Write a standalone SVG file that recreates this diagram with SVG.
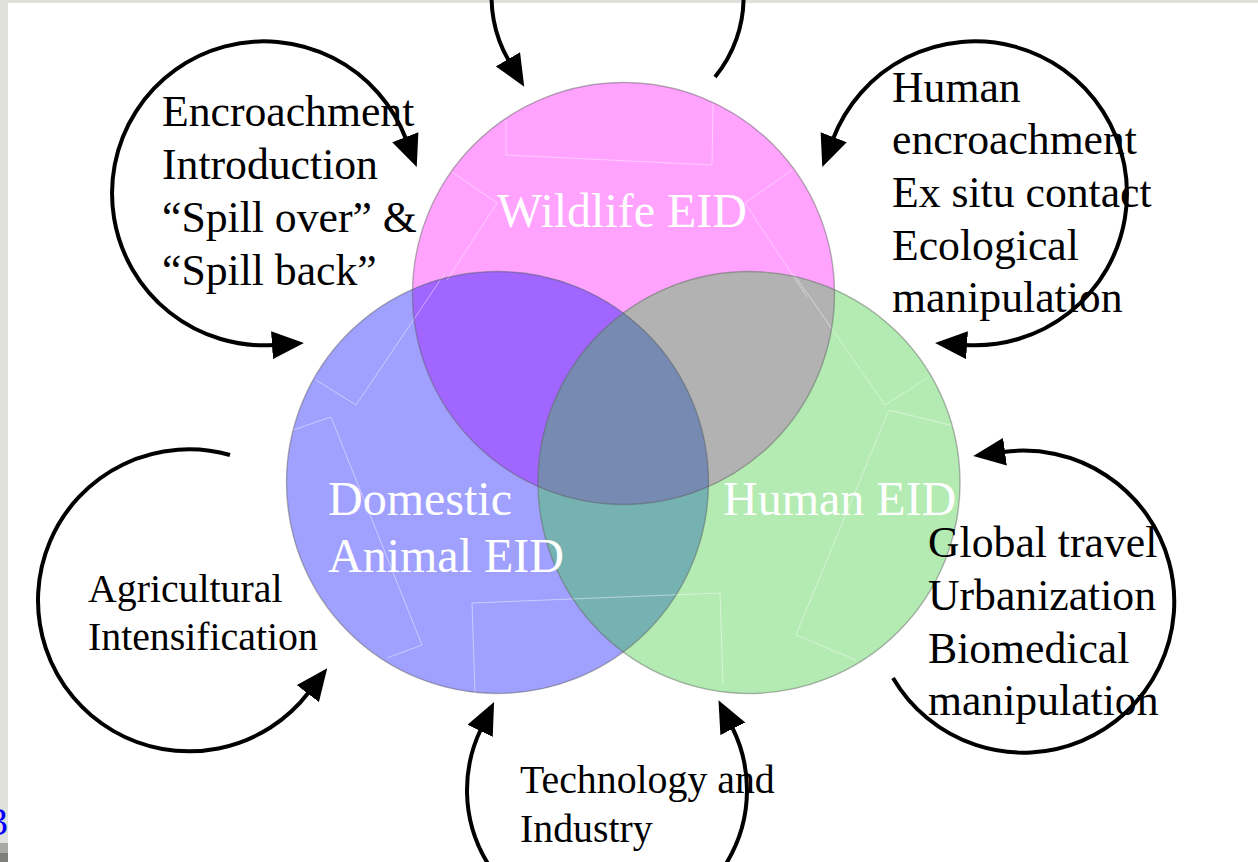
<svg xmlns="http://www.w3.org/2000/svg" width="1258" height="862" viewBox="0 0 1258 862">
<style>
.lbl{font-family:"Liberation Serif","Times New Roman",serif;fill:#000;}
.big{font-size:43.7px;}
.mid{font-size:39.8px;}
.eid{font-family:"Liberation Serif","Times New Roman",serif;font-size:48px;fill:#fff;}
.edge{fill:none;stroke:#5a5a5a;stroke-opacity:0.45;stroke-width:1.4;}
.art{fill:none;stroke:#fff;stroke-opacity:0.45;stroke-width:1;}
.loop{fill:none;stroke:#000;stroke-width:4;}
</style>
<defs>
<marker id="ah" markerUnits="userSpaceOnUse" viewBox="0 0 32 28" markerWidth="32" markerHeight="28" refX="2" refY="14" orient="auto-start-reverse">
<path d="M0,0 L32,14 L0,28 z" fill="#000"/>
</marker>
<clipPath id="cpW"><circle cx="623.5" cy="293.5" r="211"/></clipPath>
<clipPath id="cpD"><circle cx="497.5" cy="482.5" r="211"/></clipPath>
</defs>
<rect x="0" y="0" width="1258" height="862" fill="#fff"/>
<rect x="0" y="0" width="1258" height="3" fill="#e1e1dc"/>
<rect x="0" y="0" width="8" height="862" fill="#e1e1dc"/>
<rect x="0" y="843" width="8" height="10" fill="#a8a8a6"/>
<rect x="0" y="853" width="8" height="9" fill="#7e7e7c"/>
<text x="-12" y="835" font-family="Liberation Serif,serif" font-size="40" fill="#0000ff">3</text>

<g id="wildlife-eid">
<circle cx="623.5" cy="293.5" r="211" fill="#ffa3ff"/>
</g>
<g id="domestic-animal-eid">
<circle cx="497.5" cy="482.5" r="211" fill="#a0a0ff"/>
</g>
<g id="human-eid">
<circle cx="749" cy="482.5" r="211" fill="#b3ebb3"/>
</g>
<g id="overlaps">
<circle cx="497.5" cy="482.5" r="211" fill="#a066ff" clip-path="url(#cpW)"/>
<circle cx="749" cy="482.5" r="211" fill="#b2b2b2" clip-path="url(#cpW)"/>
<circle cx="749" cy="482.5" r="211" fill="#77b2b2" clip-path="url(#cpD)"/>
<g clip-path="url(#cpW)"><circle cx="749" cy="482.5" r="211" fill="#778ab2" clip-path="url(#cpD)"/></g>
</g>
<g id="artifacts">
<path class="art" d="M506,120 L506,155 L712,165 L713,103"/>
<path class="art" d="M452,172 L497,203 L447,280"/>
<path class="art" d="M792,170 L745,203 L807,297"/>
<path class="art" d="M445,273 L356,405 L316,380"/>
<path class="art" d="M293,430 L331,417 L422,645 L387,658"/>
<path class="art" d="M475,693 L472,603 L720,593 L723,685"/>
<path class="art" d="M793,273 L885,405 L927,378"/>
<path class="art" d="M958,427 L889,410 L796,635 L856,660"/>
</g>
<g id="outlines">
<circle class="edge" cx="623.5" cy="293.5" r="211"/>
<circle class="edge" cx="497.5" cy="482.5" r="211"/>
<circle class="edge" cx="749" cy="482.5" r="211"/>
</g>
<g id="eid-labels">
<text class="eid" x="497" y="227">Wildlife EID</text>
<text class="eid" x="328" y="515">Domestic</text>
<text class="eid" x="328" y="572">Animal EID</text>
<text class="eid" x="723" y="515">Human EID</text>
</g>

<g id="connectors">
<path class="loop" d="M274,345 A152,152 0 1 1 406,139" marker-start="url(#ah)" marker-end="url(#ah)"/>
<path class="loop" d="M715,77 A126,126 0 1 0 509,61" marker-end="url(#ah)"/>
<path class="loop" d="M965,345 A152,152 0 1 0 833,139" marker-start="url(#ah)" marker-end="url(#ah)"/>
<path class="loop" d="M230,455 A151,151 0 1 0 309,692" marker-end="url(#ah)"/>
<path class="loop" d="M481,729 A140,140 0 1 0 732,727" marker-start="url(#ah)" marker-end="url(#ah)"/>
<path class="loop" d="M893,678 A151,151 0 1 0 1003,452" marker-end="url(#ah)"/>
</g>

<g id="wildlife-drivers">
<text class="lbl big" x="162" y="126">Encroachment</text>
<text class="lbl big" x="162" y="179">Introduction</text>
<text class="lbl big" x="162" y="232">“Spill over” &amp;</text>
<text class="lbl big" x="162" y="285">“Spill back”</text>
</g>
<g id="human-wildlife-drivers">
<text class="lbl big" x="892" y="102">Human</text>
<text class="lbl big" x="892" y="154">encroachment</text>
<text class="lbl big" x="892" y="207">Ex situ contact</text>
<text class="lbl big" x="892" y="260">Ecological</text>
<text class="lbl big" x="892" y="312">manipulation</text>
</g>
<g id="agri-drivers">
<text class="lbl mid" x="88" y="602">Agricultural</text>
<text class="lbl mid" x="88" y="650">Intensification</text>
</g>
<g id="tech-drivers">
<text class="lbl mid" x="520" y="793">Technology and</text>
<text class="lbl mid" x="520" y="842">Industry</text>
</g>
<g id="human-drivers">
<text class="lbl big" x="928" y="557">Global travel</text>
<text class="lbl big" x="928" y="610">Urbanization</text>
<text class="lbl big" x="928" y="663">Biomedical</text>
<text class="lbl big" x="928" y="715">manipulation</text>
</g>
</svg>
